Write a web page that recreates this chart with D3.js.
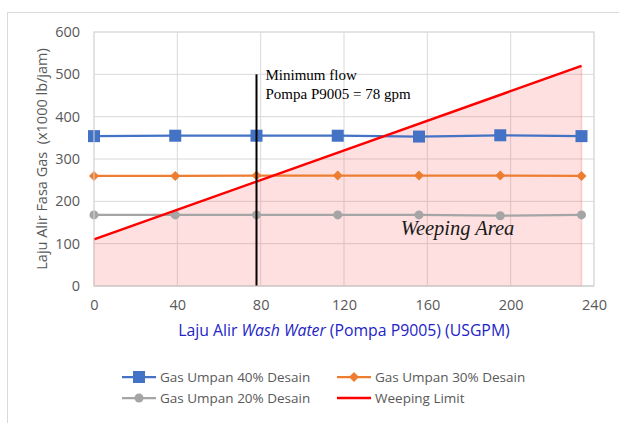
<!DOCTYPE html>
<meta charset="utf-8">
<script src="https://d3js.org/d3.v7.min.js"></script>
<style>
  body { margin: 0; background: #fff; }
  text { font-family: "Open Sans", Lato, sans-serif; }
</style>
<div id="chart"></div>
<script>

// data
var flow = [0, 39, 78, 117, 156, 195, 234];
var gas40 = [354, 355, 355, 355, 353, 356, 354];
var gas30 = [260, 260, 261, 261, 261, 261, 260];
var gas20 = [168, 168, 168, 168, 168, 166, 168];
var limitFlow = [0, 234];
var limitGas = [110, 520];
var minFlow = 78;
var xTicks = [0, 40, 80, 120, 160, 200, 240];
var yTicks = [0, 100, 200, 300, 400, 500, 600];

var W = 619, H = 423;
var margin = {top: 32, right: 25, bottom: 137, left: 94},
    width = 500,
    height = 254;

var svg = d3.select("#chart")
  .append("svg")
    .attr("width", W)
    .attr("height", H);

// outer frame (left and top only visible)
svg.append("path")
  .attr("d", "M7.5," + H + "V12.5H" + W)
  .attr("fill", "none")
  .attr("stroke", "#d9d9d9");

var g = svg.append("g")
  .attr("transform", "translate(" + margin.left + "," + margin.top + ")");

var x = d3.scaleLinear().domain([0, 240]).range([0, width]);
var y = d3.scaleLinear().domain([0, 600]).range([height, 0]);

// gridlines
g.append("g")
  .selectAll("line.h")
  .data(yTicks)
  .enter().append("line")
    .attr("x1", 0).attr("x2", width)
    .attr("y1", function(d) { return y(d); })
    .attr("y2", function(d) { return y(d); })
    .attr("stroke", "#d9d9d9");
g.append("g")
  .selectAll("line.v")
  .data(xTicks)
  .enter().append("line")
    .attr("y1", 0).attr("y2", height)
    .attr("x1", function(d) { return x(d); })
    .attr("x2", function(d) { return x(d); })
    .attr("stroke", "#d9d9d9");

// weeping area
var limit = limitFlow.map(function(d, i) { return {x: d, y: limitGas[i]}; });
g.append("path")
  .datum(limit)
  .attr("d", d3.area()
    .x(function(d) { return x(d.x); })
    .y0(y(0))
    .y1(function(d) { return y(d.y); }))
  .attr("fill", "rgba(255, 60, 60, 0.16)")
  .attr("stroke", "rgba(230, 90, 90, 0.25)")
  .attr("stroke-width", 1.5);

// axes
var xAxis = g.append("g")
  .attr("transform", "translate(0," + height + ")")
  .call(d3.axisBottom(x).tickValues(xTicks).tickSize(0).tickPadding(14));
var yAxis = g.append("g")
  .call(d3.axisLeft(y).tickValues(yTicks).tickSize(0).tickPadding(14));
[xAxis, yAxis].forEach(function(a) {
  a.select(".domain").remove();
  a.selectAll("text")
    .attr("fill", "#595959")
    .style("font-size", "14.5px")
    .style("font-family", "'Open Sans', sans-serif");
});
g.append("line")
  .attr("x1", 0).attr("x2", width)
  .attr("y1", height).attr("y2", height)
  .attr("stroke", "#bfbfbf");

// series
var series = [
  {name: "Gas Umpan 40% Desain", values: gas40, color: "#4472c4", marker: "square"},
  {name: "Gas Umpan 30% Desain", values: gas30, color: "#ed7d31", marker: "diamond"},
  {name: "Gas Umpan 20% Desain", values: gas20, color: "#a5a5a5", marker: "circle"}
];

var line = d3.line()
  .x(function(d, i) { return x(flow[i]); })
  .y(function(d) { return y(d); });

function marker(sel, type, color) {
  if (type === "square") {
    sel.append("rect")
      .attr("x", -6).attr("y", -6).attr("width", 12).attr("height", 12)
      .attr("fill", color);
  } else if (type === "diamond") {
    sel.append("path")
      .attr("d", "M0,-5L5,0L0,5L-5,0Z")
      .attr("fill", color);
  } else {
    sel.append("circle").attr("r", 4.5).attr("fill", color);
  }
}

series.forEach(function(s) {
  g.append("path")
    .datum(s.values)
    .attr("d", line)
    .attr("fill", "none")
    .attr("stroke", s.color)
    .attr("stroke-width", 2.25);
  g.selectAll(null)
    .data(s.values)
    .enter().append("g")
      .attr("transform", function(d, i) { return "translate(" + x(flow[i]) + "," + y(d) + ")"; })
      .each(function() { marker(d3.select(this), s.marker, s.color); });
});

// weeping limit
g.append("path")
  .datum(limit)
  .attr("d", d3.line().x(function(d) { return x(d.x); }).y(function(d) { return y(d.y); }))
  .attr("fill", "none")
  .attr("stroke", "#ff0000")
  .attr("stroke-width", 2.5);

// minimum flow line
g.append("line")
  .attr("x1", x(minFlow)).attr("x2", x(minFlow))
  .attr("y1", y(0)).attr("y2", y(500))
  .attr("stroke", "#000")
  .attr("stroke-width", 2);

var note = g.append("text")
  .attr("x", x(minFlow) + 9)
  .attr("y", y(500) + 6)
  .attr("fill", "#000")
  .style("font-family", "'Liberation Serif', serif")
  .style("font-size", "15px");
note.append("tspan").text("Minimum flow");
note.append("tspan").attr("x", x(minFlow) + 9).attr("dy", 19).text("Pompa P9005 = 78 gpm");

g.append("text")
  .attr("x", x(174.5))
  .attr("y", y(120))
  .attr("text-anchor", "middle")
  .attr("fill", "#1a1a1a")
  .style("font-family", "'Liberation Serif', serif")
  .style("font-style", "italic")
  .style("font-size", "20.5px")
  .text("Weeping Area");

// plot border
g.append("rect")
  .attr("width", width).attr("height", height)
  .attr("fill", "none")
  .attr("stroke", "#d9d9d9");

// axis titles
var xt = svg.append("text")
  .attr("x", 344)
  .attr("y", 336)
  .attr("text-anchor", "middle")
  .attr("fill", "#2323c8")
  .style("font-size", "15.8px");
xt.append("tspan").text("Laju Alir ");
xt.append("tspan").style("font-style", "italic").text("Wash Water");
xt.append("tspan").text(" (Pompa P9005) (USGPM)");

svg.append("text")
  .attr("transform", "translate(47," + (margin.top + height / 2) + ") rotate(-90)")
  .attr("text-anchor", "middle")
  .attr("fill", "#595959")
  .style("font-size", "14.5px")
  .style("white-space", "pre")
  .text("Laju Alir Fasa Gas  (x1000 lb/jam)");

// legend
var legendItems = series.concat([{name: "Weeping Limit", color: "#ff0000", marker: null}]);
var legendPos = [[122, 377], [337, 377], [122, 398], [337, 398]];
legendItems.forEach(function(s, i) {
  var lg = svg.append("g")
    .attr("transform", "translate(" + legendPos[i][0] + "," + legendPos[i][1] + ")");
  lg.append("line")
    .attr("x1", 0).attr("x2", 34)
    .attr("stroke", s.color)
    .attr("stroke-width", s.marker ? 2.25 : 2.5);
  if (s.marker) {
    var m = lg.append("g").attr("transform", "translate(17,0)");
    marker(m, s.marker, s.color);
  }
  lg.append("text")
    .attr("x", 38)
    .attr("dy", "0.35em")
    .attr("fill", "#595959")
    .style("font-size", "13.5px")
    .text(s.name);
});

</script>
